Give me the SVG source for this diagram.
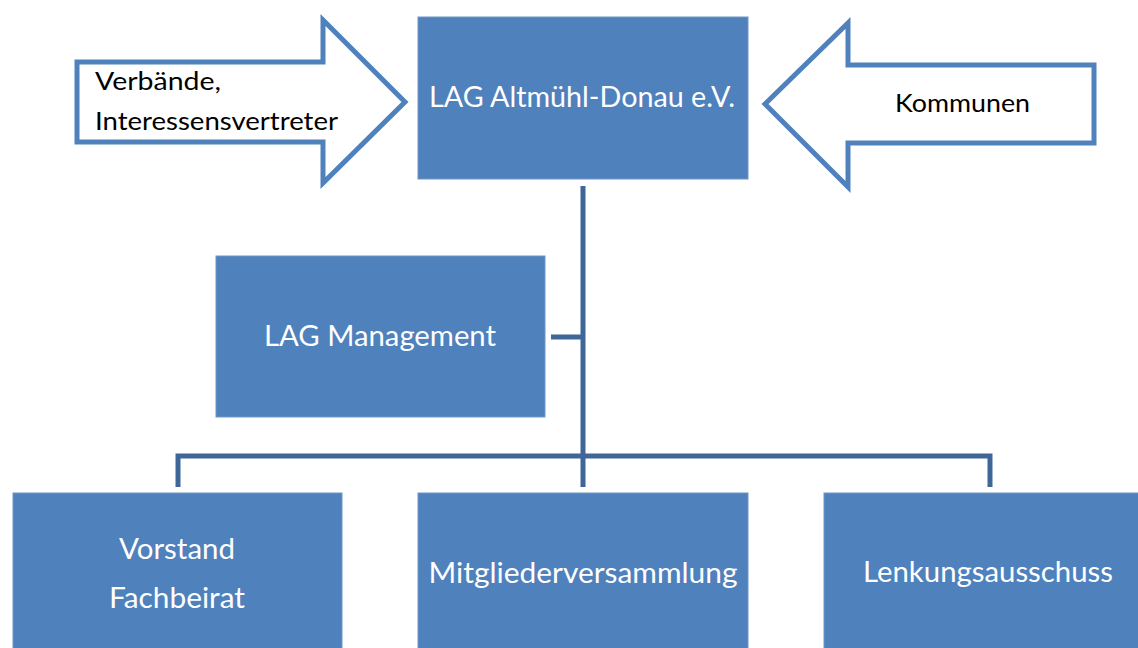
<svg xmlns="http://www.w3.org/2000/svg" width="1138" height="648" viewBox="0 0 1138 648">
<style>
.box{fill:#4F81BD;stroke:#6F97C8;stroke-width:1}
.arrow{fill:#FFFFFF;stroke:#4F81BD;stroke-width:5}
.wt{font-family:Lato,"Liberation Sans",sans-serif;font-size:29px;fill:#FFFFFF;text-anchor:middle}
.bt{font-family:Lato,"Liberation Sans",sans-serif;font-size:25px;fill:#000000}
.conn{fill:none;stroke:#3E6698;stroke-width:5}
</style>
<rect width="1138" height="648" fill="#FFFFFF"/>
<g id="connectors">
<path class="conn" d="M583,186 V487"/>
<path class="conn" d="M551,337 H583"/>
<path class="conn" d="M178,487 V456 H990 V487"/>
</g>
<g id="arrow-verbaende">
<path class="arrow" d="M77,62 H323 V20 L405,102 L323,183 V142 H77 Z"/>
<text class="bt" x="95" y="90" textLength="126" lengthAdjust="spacingAndGlyphs">Verbände,</text>
<text class="bt" x="95" y="130" textLength="243" lengthAdjust="spacingAndGlyphs">Interessensvertreter</text>
</g>
<g id="arrow-kommunen">
<path class="arrow" d="M1094,65 H848 V23 L765,104 L848,187 V143 H1094 Z"/>
<text class="bt" x="895" y="112" textLength="135" lengthAdjust="spacingAndGlyphs">Kommunen</text>
</g>
<g id="node-lag">
<rect class="box" x="418" y="17" width="330" height="162"/>
<text class="wt" x="582" y="107" textLength="306" lengthAdjust="spacingAndGlyphs">LAG Altmühl-Donau e.V.</text>
</g>
<g id="node-management">
<rect class="box" x="216" y="256" width="329" height="161"/>
<text class="wt" x="380" y="346" textLength="232" lengthAdjust="spacingAndGlyphs">LAG Management</text>
</g>
<g id="node-vorstand">
<rect class="box" x="13" y="493" width="329" height="160"/>
<text class="wt" x="177" y="559" textLength="116" lengthAdjust="spacingAndGlyphs">Vorstand</text>
<text class="wt" x="177" y="608" textLength="136" lengthAdjust="spacingAndGlyphs">Fachbeirat</text>
</g>
<g id="node-mitglieder">
<rect class="box" x="418" y="493" width="330" height="160"/>
<text class="wt" x="583" y="583" textLength="309" lengthAdjust="spacingAndGlyphs">Mitgliederversammlung</text>
</g>
<g id="node-lenkung">
<rect class="box" x="824" y="493" width="320" height="160"/>
<text class="wt" x="988" y="582" textLength="250" lengthAdjust="spacingAndGlyphs">Lenkungsausschuss</text>
</g>
</svg>
